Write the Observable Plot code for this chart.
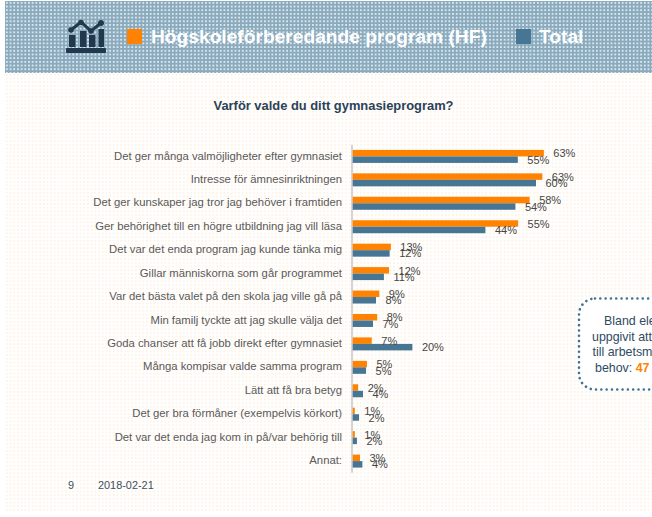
<!DOCTYPE html>
<html lang="sv">
<head>
<meta charset="utf-8">
<script src="https://cdn.jsdelivr.net/npm/d3@7"></script>
<script src="https://cdn.jsdelivr.net/npm/@observablehq/plot@0.6"></script>
<style>
html,body{margin:0;padding:0;width:652px;height:517px;overflow:hidden;background:#fff;font-family:"Liberation Sans",Arial,sans-serif;}
#page{position:relative;width:652px;height:517px;overflow:hidden;}
#paper{position:absolute;left:5px;top:73px;width:647px;height:438px;
 background-image:radial-gradient(circle at 1.8px 1.8px,#fef3e6 0,#fef3e6 1px,transparent 1.3px);background-size:3.7px 3.7px;}
#band{position:absolute;left:5px;top:1px;width:647px;height:72px;background-color:#8aaabe;
 background-image:radial-gradient(circle at 1.8px 1.8px,#dbe6ec 0,#dbe6ec 1px,transparent 1.3px);background-size:3.7px 3.7px;}
#chart{position:absolute;left:0;top:0;}
.abs{position:absolute;white-space:nowrap;}
.sw{position:absolute;width:15px;height:15px;top:29px;}
.lg{top:26px;color:#fff;font-weight:bold;font-size:19.2px;line-height:22px;}
#title{left:0;width:667px;text-align:center;top:99px;font-weight:bold;font-size:12.9px;line-height:14px;color:#2b4257;}
.foot{top:479px;font-size:10.9px;line-height:13px;color:#3c4f60;}
.cl{font-size:12.4px;line-height:14px;color:#2f4a5f;}
</style>
</head>
<body>
<div id="page">
 <div id="paper"></div>
 <div id="band"></div>
 <svg class="abs" style="left:66px;top:19px" width="40" height="35" viewBox="0 0 40 35" fill="#22394d" stroke="none">
  <rect x="0" y="29" width="40" height="5" rx="1"/>
  <rect x="3" y="16" width="6.5" height="12"/><rect x="14" y="12" width="6.5" height="16"/><rect x="23" y="16" width="6.5" height="12"/><rect x="32.5" y="10" width="5.5" height="18"/>
  <polyline points="5,11 15,3 25,12 35,4" fill="none" stroke="#22394d" stroke-width="3"/>
  <circle cx="5" cy="11" r="2.8"/><circle cx="15" cy="3.5" r="2.8"/><circle cx="25" cy="12" r="2.8"/><circle cx="35" cy="4" r="3"/>
 </svg>
 <div class="sw" style="left:127px;background:#ff8200"></div>
 <div class="abs lg" style="left:151px">Högskoleförberedande program (HF)</div>
 <div class="sw" style="left:516px;background:#477694"></div>
 <div class="abs lg" style="left:539px">Total</div>
 <div id="title" class="abs">Varför valde du ditt gymnasieprogram?</div>
 <div id="chart"></div>
 <div class="abs foot" style="left:68px">9</div>
 <div class="abs foot" style="left:98px">2018-02-21</div>
 <svg class="abs" style="left:576px;top:296px" width="76" height="96">
  <rect x="3" y="2.5" width="140" height="91" rx="16" fill="#fff" stroke="#3d7294" stroke-width="2.6" stroke-linecap="round" stroke-dasharray="0.01 5.3"/>
 </svg>
 <div class="abs cl" style="left:604px;top:314px">Bland ele</div>
 <div class="abs cl" style="left:592px;top:330px">uppgivit att</div>
 <div class="abs cl" style="left:592.5px;top:345px">till arbetsm</div>
 <div class="abs cl" style="left:595px;top:361px">behov: <b style="color:#ff8200">47</b></div>
</div>
<script>
const categories = [
 "Det ger många valmöjligheter efter gymnasiet",
 "Intresse för ämnesinriktningen",
 "Det ger kunskaper jag tror jag behöver i framtiden",
 "Ger behörighet till en högre utbildning jag vill läsa",
 "Det var det enda program jag kunde tänka mig",
 "Gillar människorna som går programmet",
 "Var det bästa valet på den skola jag ville gå på",
 "Min familj tyckte att jag skulle välja det",
 "Goda chanser att få jobb direkt efter gymnasiet",
 "Många kompisar valde samma program",
 "Lätt att få bra betyg",
 "Det ger bra förmåner (exempelvis körkort)",
 "Det var det enda jag kom in på/var behörig till",
 "Annat:"
];
const hfValues    = [63.1,62.6,58.4,54.6,12.6,12.0,8.8,8.1,6.3,4.7,1.8,0.7,0.7,2.4];
const totalValues = [54.5,60.5,53.7,43.8,12.2,10.3,7.7,6.7,19.7,4.4,3.4,2.1,1.4,3.2];
const hfLabels    = [63,63,58,55,13,12,9,8,7,5,2,1,1,3];
const totalLabels = [55,60,54,44,12,11,8,7,20,5,4,2,2,4];
const hfColor = "#ff8200", totalColor = "#477694";

const hf = categories.map((c,i)=>({c, v:hfValues[i], t:hfLabels[i]+"%"}));
const total = categories.map((c,i)=>({c, v:totalValues[i], t:totalLabels[i]+"%"}));
const labelStyle = {x:"v", y:"c", text:"t", dx:9, textAnchor:"start", fontSize:11, fill:"#454545"};

const plot = Plot.plot({
 width:652, height:517,
 marginLeft:352.7, marginRight:2.4, marginTop:144.7, marginBottom:44.2,
 style:{background:"transparent", fontFamily:"'Liberation Sans',Arial,sans-serif"},
 x:{domain:[0,98], axis:null},
 y:{domain:categories, paddingInner:0.4456, paddingOuter:0.2228, round:false, label:null},
 marks:[
  Plot.ruleX([0],{dx:-1.2, stroke:"#d4d4d4", strokeWidth:2}),
  Plot.axisY({tickSize:0, tickPadding:11.2, fontSize:11.3, fill:"#595959", label:null, lineWidth:60, textOverflow:null, dy:-1}),
  Plot.barX(hf,{x:"v", y:"c", fill:hfColor, insetBottom:6.5}),
  Plot.barX(total,{x:"v", y:"c", fill:totalColor, insetTop:6.5}),
  Plot.text(hf,{...labelStyle, dy:-3}),
  Plot.text(total,{...labelStyle, dy:3.3})
 ]
});
document.getElementById("chart").appendChild(plot);
</script>
</body>
</html>
